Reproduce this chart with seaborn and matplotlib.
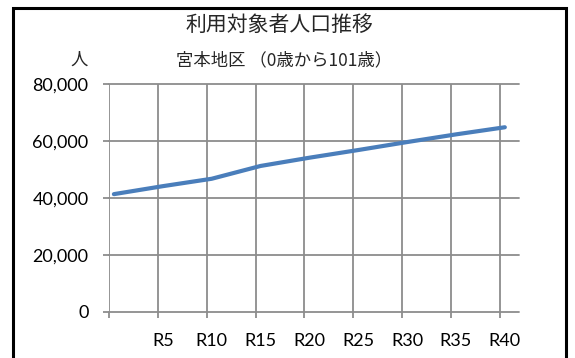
import numpy as np
import pandas as pd
import seaborn as sns
import matplotlib.pyplot as plt
from matplotlib.patches import Rectangle
from matplotlib.ticker import FuncFormatter

# data (R0 .. R40, every 5 years)
years = [0, 5, 10, 15, 20, 25, 30, 35, 40]
population = [41300, 44100, 46700, 51200, 54100, 56800, 59600, 62300, 64800]
x_labels = ["", "R5", "R10", "R15", "R20", "R25", "R30", "R35", "R40"]
y_ticks = [0, 20000, 40000, 60000, 80000]

title = "利用対象者人口推移"
subtitle = "宮本地区 （0歳から101歳）"
unit = "人"

grid_col = "#8c8c8c"
line_col = "#4a7ebb"

sns.set_theme(style="white")
plt.rcParams['font.family'] = ['Lato', 'Noto Sans CJK JP', 'DejaVu Sans']

W, H = 575, 358
fig = plt.figure(figsize=(W / 100, H / 100), dpi=100)
ax = fig.add_axes([109 / W, (H - 311.7) / H, 410 / W, 227.7 / H])

df = pd.DataFrame({'year': years, 'pop': population})
sns.lineplot(data=df, x='year', y='pop', ax=ax, color=line_col,
             linewidth=3, solid_capstyle='round')

ax.set_xlim(-0.5, 41.45)
ax.set_ylim(0, 80000)

# category boundaries -> gridlines / tick marks, labels in the middle
ax.set_xticks([y - 0.5 for y in years], minor=True)
ax.set_xticks(years)
ax.set_xticklabels(x_labels)
ax.set_yticks(y_ticks)
ax.yaxis.set_major_formatter(FuncFormatter(lambda v, p: f"{int(v):,}"))

ax.grid(False)
ax.grid(axis='x', which='minor', color=grid_col, linewidth=1.3)
ax.grid(axis='y', which='major', color=grid_col, linewidth=1.3)
for gl in ax.get_xgridlines() + ax.get_ygridlines():
    gl.set_clip_on(False)

ax.tick_params(axis='x', which='major', length=0, pad=15, labelsize=13, colors='black')
ax.tick_params(axis='x', which='minor', length=4.3, width=1.3, color=grid_col, direction='out')
ax.tick_params(axis='y', which='major', length=4.3, width=1.3, color=grid_col,
               direction='out', pad=10.5, labelsize=13, labelcolor='black')
ax.xaxis.set_ticks_position('bottom')
ax.yaxis.set_ticks_position('left')
ax.set_xlabel('')
ax.set_ylabel('')
for s in ax.spines.values():
    s.set_visible(False)

cjk = ['Noto Sans CJK JP', 'DejaVu Sans']
fig.text(279.5 / W, 1 - 25 / H, title, ha='center', va='center', fontsize=15, family=cjk)
fig.text(284 / W, 1 - 60 / H, subtitle, ha='center', va='center', fontsize=12.5, family=cjk)
fig.text(79 / W, 1 - 60 / H, unit, ha='center', va='center', fontsize=12.5, family=cjk)

# chart frame
fig.add_artist(Rectangle((12.5 / W, -0.02), 553 / W, 1 - 7.5 / H + 0.02,
                         transform=fig.transFigure, fill=False,
                         edgecolor='black', linewidth=2.2, clip_on=False))

fig.savefig('out.png', dpi=100)
